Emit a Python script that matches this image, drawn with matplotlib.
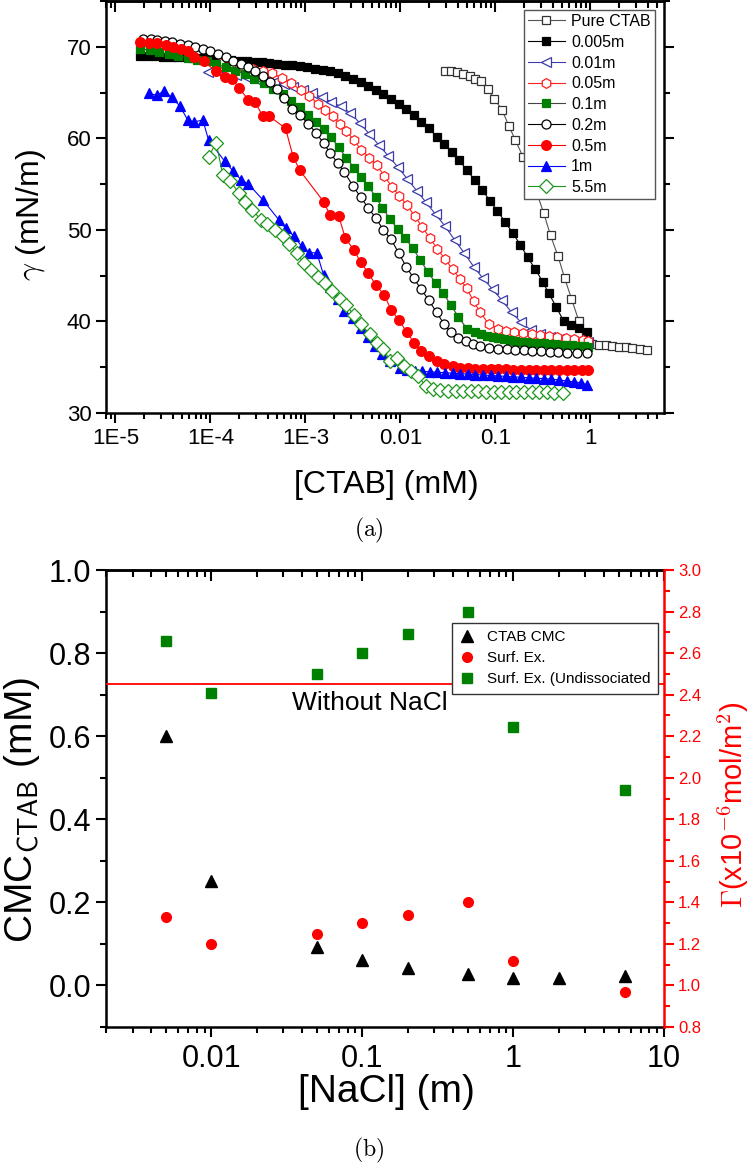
import numpy as np
import matplotlib.pyplot as plt
from matplotlib.ticker import (FixedLocator, FixedFormatter, LogLocator,
                               MultipleLocator, NullFormatter)

plt.rcParams['font.family'] = ['Liberation Sans', 'DejaVu Sans']
plt.rcParams['mathtext.fontset'] = 'cm'
NARROW = ['Liberation Sans Narrow', 'Liberation Sans', 'DejaVu Sans']

# ---------------------------------------------------------------------------
# (a) surface tension vs [CTAB]; x values are log10([CTAB] / mM) read off the
#     log axis, y values are gamma in mN/m
# ---------------------------------------------------------------------------
pure_lg = [-1.53, -1.47, -1.40, -1.34, -1.27, -1.21, -1.15, -1.08, -1.01, -0.93,
           -0.86, -0.79, -0.71, -0.64, -0.56, -0.49, -0.42, -0.34, -0.27, -0.20,
           -0.12, -0.05, 0.02, 0.09, 0.16, 0.23, 0.30, 0.37, 0.44, 0.52, 0.60]
pure_g = [67.4, 67.3, 67.2, 67.05, 66.8, 66.5, 66.25, 65.35, 64.3, 63.1,
          61.4, 59.8, 58.0, 55.8, 53.9, 51.8, 49.4, 47.1, 44.7, 42.5,
          40.0, 38.4, 37.5, 37.45, 37.4, 37.3, 37.25, 37.2, 37.1, 37.0, 36.9]

m0005_lg = [-4.74, -4.66, -4.58, -4.50, -4.42, -4.34, -4.26, -4.18, -4.10, -4.02,
            -3.94, -3.86, -3.78, -3.70, -3.62, -3.54, -3.46, -3.38, -3.30, -3.22,
            -3.14, -3.06, -2.98, -2.90, -2.82, -2.74, -2.66, -2.58, -2.50, -2.42,
            -2.34, -2.26, -2.18, -2.10, -2.02, -1.94, -1.86, -1.78, -1.70, -1.62,
            -1.54, -1.46, -1.38, -1.30, -1.22, -1.14, -1.06, -0.98, -0.90, -0.82,
            -0.74, -0.66, -0.58, -0.50, -0.44, -0.36, -0.28, -0.20, -0.12, -0.04]
m0005_g = [69.0, 68.97, 68.95, 68.92, 68.9, 68.87, 68.84, 68.8, 68.76, 68.72,
           68.67, 68.62, 68.56, 68.5, 68.45, 68.38, 68.3, 68.22, 68.14, 68.05,
           67.96, 67.86, 67.75, 67.62, 67.47, 67.3, 67.1, 66.85, 66.5, 66.1,
           65.7, 65.25, 64.8, 64.3, 63.75, 63.15, 62.5, 61.8, 61.1, 60.2,
           59.35, 58.5, 57.6, 56.5, 55.5, 54.4, 53.2, 52.1, 50.9, 49.7,
           48.4, 47.0, 45.7, 44.3, 43.1, 41.6, 40.0, 39.6, 39.3, 38.9]

m001_lg = [-4.03, -3.93, -3.83, -3.73, -3.63, -3.53, -3.43, -3.33, -3.23, -3.13,
           -3.03, -2.93, -2.83, -2.73, -2.63, -2.53, -2.43, -2.33, -2.23, -2.13,
           -2.03, -1.93, -1.83, -1.73, -1.63, -1.53, -1.43, -1.33, -1.23, -1.13,
           -1.03, -0.93, -0.83, -0.73, -0.63, -0.53, -0.43, -0.33, -0.23, -0.13, -0.03]
m001_g = [67.2, 67.3, 67.1, 66.9, 66.7, 66.5, 66.3, 66.1, 65.9, 65.6,
          65.3, 64.9, 64.5, 64.0, 63.5, 62.8, 61.7, 60.5, 59.3, 58.1,
          56.9, 55.6, 54.3, 53.0, 51.7, 50.4, 48.9, 47.5, 46.0, 44.7,
          43.5, 42.3, 41.0, 39.9, 39.1, 38.6, 38.3, 38.1, 37.95, 37.85, 37.75]

m005_lg = [-3.90, -3.78, -3.66, -3.55, -3.45, -3.35, -3.25, -3.15, -3.05, -2.96,
           -2.87, -2.79, -2.71, -2.64, -2.57, -2.49, -2.41, -2.33, -2.25, -2.17,
           -2.09, -2.01, -1.93, -1.85, -1.77, -1.69, -1.61, -1.53, -1.45, -1.37,
           -1.30, -1.23, -1.16, -1.07, -0.97, -0.89, -0.80, -0.71, -0.62, -0.53,
           -0.44, -0.35, -0.26, -0.17, -0.08, -0.02]
m005_g = [68.2, 68.0, 67.8, 67.6, 67.4, 67.1, 66.6, 66.0, 65.3, 64.6,
          63.8, 63.1, 62.4, 61.6, 60.8, 59.8, 58.7, 57.9, 57.1, 55.9,
          54.7, 53.7, 52.7, 51.5, 50.3, 49.1, 47.9, 46.8, 45.7, 44.6,
          43.6, 42.2, 41.0, 39.7, 39.2, 39.0, 38.8, 38.7, 38.6, 38.5,
          38.4, 38.25, 38.15, 38.05, 37.95, 37.85]

m01_lg = [-4.74, -4.64, -4.54, -4.44, -4.34, -4.24, -4.14, -4.04, -3.94, -3.84,
          -3.74, -3.64, -3.54, -3.44, -3.34, -3.24, -3.15, -3.06, -2.97, -2.89,
          -2.81, -2.73, -2.65, -2.57, -2.49, -2.42, -2.34, -2.26, -2.19, -2.11,
          -2.03, -1.95, -1.87, -1.79, -1.71, -1.63, -1.55, -1.47, -1.39, -1.30,
          -1.21, -1.15, -1.09, -1.03, -0.97, -0.91, -0.85, -0.79, -0.73, -0.67,
          -0.61, -0.55, -0.49, -0.43, -0.37, -0.31, -0.25, -0.19, -0.13, -0.07, -0.03]
m01_g = [69.8, 69.6, 69.4, 69.2, 69.0, 68.8, 68.6, 68.4, 68.1, 67.8,
         67.4, 67.0, 66.5, 66.0, 65.4, 64.8, 64.1, 63.4, 62.6, 61.8,
         61.0, 60.1, 59.0, 57.9, 56.8, 55.8, 54.8, 53.6, 52.4, 51.2,
         50.1, 49.1, 48.0, 46.7, 45.4, 44.2, 43.1, 41.8, 40.5, 39.2,
         38.8, 38.6, 38.45, 38.3, 38.2, 38.1, 38.0, 37.9, 37.8, 37.75,
         37.7, 37.65, 37.6, 37.55, 37.5, 37.45, 37.4, 37.38, 37.35, 37.3, 37.25]

m02_lg = [-4.71, -4.63, -4.56, -4.48, -4.40, -4.32, -4.24, -4.16, -4.08, -4.00,
          -3.92, -3.84, -3.76, -3.68, -3.61, -3.53, -3.45, -3.37, -3.30, -3.23,
          -3.14, -3.06, -2.97, -2.89, -2.81, -2.74, -2.66, -2.59, -2.50, -2.42,
          -2.34, -2.26, -2.18, -2.10, -2.02, -1.94, -1.86, -1.78, -1.70, -1.62,
          -1.54, -1.47, -1.39, -1.31, -1.24, -1.16, -1.07, -0.97, -0.88, -0.79,
          -0.70, -0.61, -0.52, -0.43, -0.34, -0.25, -0.14, -0.04]
m02_g = [70.9, 70.8, 70.7, 70.6, 70.5, 70.35, 70.2, 70.0, 69.8, 69.5,
         69.2, 68.9, 68.5, 68.1, 67.8, 67.3, 66.8, 66.2, 65.4, 64.4,
         63.2, 62.5, 61.6, 60.6, 59.5, 58.4, 57.3, 56.3, 54.8, 53.6,
         52.4, 51.3, 50.0, 49.0, 47.5, 46.0, 44.7, 43.5, 42.3, 41.0,
         39.7, 38.8, 38.2, 37.9, 37.5, 37.3, 37.15, 37.0, 36.95, 36.9,
         36.85, 36.8, 36.75, 36.7, 36.65, 36.6, 36.55, 36.5]

m05_lg = [-4.74, -4.65, -4.56, -4.47, -4.39, -4.31, -4.24, -4.17, -4.07, -3.94,
          -3.85, -3.77, -3.70, -3.60, -3.53, -3.45, -3.38, -3.21, -3.13, -3.06,
          -2.81, -2.74, -2.65, -2.58, -2.49, -2.42, -2.34, -2.26, -2.17, -2.10,
          -2.02, -1.93, -1.86, -1.78, -1.70, -1.62, -1.54, -1.45, -1.37, -1.29,
          -1.21, -1.13, -1.05, -0.97, -0.89, -0.81, -0.73, -0.65, -0.57, -0.49,
          -0.41, -0.33, -0.25, -0.17, -0.09, -0.03]
m05_g = [70.5, 70.45, 70.4, 70.2, 70.0, 69.8, 69.5, 68.9, 68.4, 67.3,
         66.7, 66.5, 65.5, 64.2, 64.0, 62.4, 62.4, 61.1, 58.0, 56.5,
         53.1, 51.6, 51.5, 49.1, 47.8, 46.5, 45.3, 44.0, 42.9, 41.3,
         40.2, 38.8, 37.7, 36.8, 36.2, 35.7, 35.3, 35.1, 34.95, 34.9,
         34.85, 34.85, 34.8, 34.8, 34.8, 34.75, 34.75, 34.75, 34.7, 34.7,
         34.7, 34.7, 34.7, 34.7, 34.7, 34.7]

m1_lg = [-4.65, -4.56, -4.49, -4.41, -4.32, -4.24, -4.17, -4.08, -4.02, -3.85,
         -3.76, -3.68, -3.60, -3.45, -3.28, -3.21, -3.12, -3.04, -2.96, -2.88,
         -2.81, -2.74, -2.66, -2.59, -2.50, -2.42, -2.34, -2.27, -2.19, -2.11,
         -2.00, -1.93, -1.85, -1.77, -1.69, -1.61, -1.53, -1.45, -1.37, -1.29,
         -1.21, -1.13, -1.05, -0.97, -0.89, -0.81, -0.73, -0.65, -0.57, -0.49,
         -0.41, -0.33, -0.25, -0.17, -0.10, -0.04]
m1_g = [64.9, 64.7, 65.2, 64.5, 63.5, 62.0, 61.8, 62.0, 59.8, 57.5,
        56.4, 55.5, 55.0, 53.3, 51.1, 50.2, 49.3, 48.2, 47.5, 47.5,
        45.1, 43.8, 42.4, 41.1, 40.4, 39.3, 38.3, 37.3, 36.4, 35.7,
        34.9, 34.75, 34.6, 34.55, 34.5, 34.45, 34.4, 34.35, 34.3, 34.25,
        34.2, 34.15, 34.1, 34.05, 34.0, 33.95, 33.9, 33.85, 33.8, 33.75,
        33.7, 33.6, 33.5, 33.4, 33.3, 33.1]

m55_lg = [-4.02, -3.94, -3.87, -3.79, -3.70, -3.64, -3.56, -3.47, -3.40, -3.32,
          -3.24, -3.17, -3.09, -3.02, -2.94, -2.87, -2.79, -2.72, -2.64, -2.57,
          -2.49, -2.42, -2.32, -2.25, -2.18, -2.11, -2.04, -1.96, -1.89, -1.81,
          -1.73, -1.66, -1.58, -1.50, -1.42, -1.34, -1.26, -1.18, -1.10, -1.02,
          -0.94, -0.86, -0.78, -0.70, -0.62, -0.54, -0.46, -0.38, -0.29]
m55_g = [58.0, 59.5, 56.0, 55.3, 54.0, 53.1, 52.2, 51.1, 50.6, 50.0,
         49.3, 48.5, 47.5, 46.4, 45.6, 44.9, 44.2, 43.3, 42.5, 41.8,
         40.7, 39.7, 38.6, 37.7, 37.0, 35.7, 36.0, 35.1, 34.6, 34.0,
         32.9, 32.6, 32.5, 32.45, 32.4, 32.4, 32.35, 32.35, 32.3, 32.3,
         32.3, 32.3, 32.25, 32.25, 32.25, 32.25, 32.25, 32.2, 32.2]

ctab_ticks = [1e-5, 1e-4, 1e-3, 0.01, 0.1, 1]
ctab_ticklabels = ['1E-5', '1E-4', '1E-3', '0.01', '0.1', '1']

# ---------------------------------------------------------------------------
# (b) CMC and surface excess vs [NaCl]
# ---------------------------------------------------------------------------
nacl_cmc = [0.005, 0.01, 0.05, 0.1, 0.2, 0.5, 1, 2, 5.5]
cmc_ctab = [0.60, 0.252, 0.092, 0.062, 0.043, 0.028, 0.017, 0.017, 0.023]
nacl_ex = [0.005, 0.01, 0.05, 0.1, 0.2, 0.5, 1, 5.5]
surf_ex = [1.33, 1.20, 1.25, 1.30, 1.34, 1.40, 1.12, 0.97]
surf_ex_undiss = [2.66, 2.41, 2.50, 2.60, 2.69, 2.80, 2.245, 1.94]
gamma_no_salt = 2.45

nacl_ticks = [0.01, 0.1, 1, 10]
nacl_ticklabels = ['0.01', '0.1', '1', '10']

# ---------------------------------------------------------------------------
W, H = 750, 1165
fig = plt.figure(figsize=(W / 100, H / 100), dpi=100)
SPW = 1.8


def fx(px):
    return px / W


def fy(py):
    return 1 - py / H


# ----------------------------- panel (a) ------------------------------------
ax = fig.add_axes([fx(106), fy(413), fx(664 - 106), 412 / H])
ax.set_xscale('log')

series = [
    ('Pure CTAB', pure_lg, pure_g, dict(marker='s', ms=6, color='#555555', mec='#333333', mfc='white')),
    ('0.005m', m0005_lg, m0005_g, dict(marker='s', ms=5.5, color='black', mec='black', mfc='black')),
    ('0.01m', m001_lg, m001_g, dict(marker='<', ms=7.5, color='#3a3aa8', mec='#3a3aa8', mfc='white')),
    ('0.05m', m005_lg, m005_g, dict(marker='h', ms=7, color='#ff2020', mec='#ff2020', mfc='white')),
    ('0.1m', m01_lg, m01_g, dict(marker='s', ms=5.8, color='#444444', mec='#008000', mfc='#008000')),
    ('0.2m', m02_lg, m02_g, dict(marker='o', ms=6.5, color='black', mec='black', mfc='white')),
    ('0.5m', m05_lg, m05_g, dict(marker='o', ms=7, color='red', mec='red', mfc='red')),
    ('1m', m1_lg, m1_g, dict(marker='^', ms=7, color='#0000ff', mec='#0000ff', mfc='#0000ff')),
    ('5.5m', m55_lg, m55_g, dict(marker='D', ms=6.8, color='#1a961a', mec='#1a961a', mfc='white')),
]
for name, lg, g, st in series:
    ax.plot(10 ** np.array(lg), g, lw=0.8, mew=0.9, label=name, **st)

ax.set_xlim(10 ** -5.1, 10 ** 0.775)
ax.set_ylim(30, 75)
ax.xaxis.set_major_locator(FixedLocator(ctab_ticks))
ax.xaxis.set_major_formatter(FixedFormatter(ctab_ticklabels))
ax.xaxis.set_minor_locator(LogLocator(base=10, subs=range(2, 10), numticks=20))
ax.xaxis.set_minor_formatter(NullFormatter())
ax.yaxis.set_major_locator(MultipleLocator(10))
ax.yaxis.set_minor_locator(MultipleLocator(5))
ax.tick_params(axis='x', which='both', direction='out', top=False, labelsize=16, width=1.5, pad=4)
ax.tick_params(axis='y', which='both', direction='out', left=True, right=True, labelsize=16, width=1.5)
ax.tick_params(which='major', length=7)
ax.tick_params(which='minor', length=4)
for s in ax.spines.values():
    s.set_linewidth(SPW)

top = ax.secondary_xaxis('top')
top.xaxis.set_major_locator(FixedLocator(ctab_ticks))
top.xaxis.set_minor_locator(LogLocator(base=10, subs=range(2, 10), numticks=20))
top.xaxis.set_major_formatter(NullFormatter())
top.xaxis.set_minor_formatter(NullFormatter())
top.tick_params(which='both', direction='in', width=1.5)
top.tick_params(which='major', length=8)
top.tick_params(which='minor', length=5)
top.spines['top'].set_linewidth(SPW)

leg = ax.legend(loc='upper right', bbox_to_anchor=(0.983, 0.978), fontsize=11.5,
                frameon=True, fancybox=False, edgecolor='#555555', framealpha=1,
                handlelength=2.3, labelspacing=0.36, borderpad=0.25,
                handletextpad=0.4, borderaxespad=0)
leg.get_frame().set_linewidth(1.0)

fig.text(fx(386), fy(485), '[CTAB] (mM)', ha='center', va='center', fontsize=23)
fig.text(fx(31), fy(215), r'$\gamma$ (mN/m)', ha='center', va='center',
         rotation=90, fontsize=23)
fig.text(fx(369), fy(530), r'$\mathrm{(a)}$', ha='center', va='center', fontsize=17)

# ----------------------------- panel (b) ------------------------------------
ax2 = fig.add_axes([fx(106), fy(1027), fx(664 - 106), 457 / H])
ax2.set_xscale('log')
ax2r = ax2.twinx()

ax2.plot(nacl_cmc, cmc_ctab, ls='none', marker='^', ms=8, color='black', label='CTAB CMC')
ax2r.plot(nacl_ex, surf_ex, ls='none', marker='o', ms=7, color='red', label='Surf. Ex.')
ax2r.plot(nacl_ex, surf_ex_undiss, ls='none', marker='s', ms=6.5, color='#008000',
          label='Surf. Ex. (Undissociated')
ax2r.axhline(gamma_no_salt, color='red', lw=1.3)
ax2.text(0.113, 0.68, 'Without NaCl', ha='center', va='center', fontsize=19, family=NARROW)

ax2.set_xlim(0.002, 10)
ax2.set_ylim(-0.1, 1.0)
ax2r.set_ylim(0.8, 3.0)

ax2.xaxis.set_major_locator(FixedLocator(nacl_ticks))
ax2.xaxis.set_major_formatter(FixedFormatter(nacl_ticklabels))
ax2.xaxis.set_minor_locator(LogLocator(base=10, subs=range(2, 10), numticks=20))
ax2.xaxis.set_minor_formatter(NullFormatter())
ax2.yaxis.set_major_locator(FixedLocator([0.0, 0.2, 0.4, 0.6, 0.8, 1.0]))
ax2.yaxis.set_major_formatter(FixedFormatter(['0.0', '0.2', '0.4', '0.6', '0.8', '1.0']))
ax2.yaxis.set_minor_locator(MultipleLocator(0.1))
ax2.tick_params(axis='x', which='both', direction='out', top=False, width=1.5, pad=5)
ax2.tick_params(axis='y', which='both', direction='out', right=False, width=1.5)
ax2.tick_params(which='major', length=7)
ax2.tick_params(which='minor', length=4)
for lab in ax2.get_xticklabels() + ax2.get_yticklabels():
    lab.set_family(NARROW)
    lab.set_fontsize(22)
for s in ax2.spines.values():
    s.set_linewidth(SPW)
ax2.spines['right'].set_visible(False)

ax2r.yaxis.set_major_locator(MultipleLocator(0.2))
ax2r.yaxis.set_minor_locator(MultipleLocator(0.1))
ax2r.yaxis.set_major_formatter(plt.FuncFormatter(lambda v, p: f'{v:.1f}'))
ax2r.tick_params(axis='y', which='both', direction='out', colors='red', width=1.5, pad=3)
ax2r.tick_params(which='major', length=7)
ax2r.tick_params(which='minor', length=4)
for lab in ax2r.get_yticklabels():
    lab.set_family(NARROW)
    lab.set_fontsize(12)
for k in ('left', 'top', 'bottom'):
    ax2r.spines[k].set_visible(False)
ax2r.spines['right'].set_color('red')
ax2r.spines['right'].set_linewidth(SPW)

top2 = ax2.secondary_xaxis('top')
top2.xaxis.set_major_locator(FixedLocator(nacl_ticks))
top2.xaxis.set_minor_locator(LogLocator(base=10, subs=range(2, 10), numticks=20))
top2.xaxis.set_major_formatter(NullFormatter())
top2.xaxis.set_minor_formatter(NullFormatter())
top2.tick_params(which='both', direction='in', width=1.5)
top2.tick_params(which='major', length=8)
top2.tick_params(which='minor', length=5)
top2.spines['top'].set_linewidth(SPW)

h1, l1 = ax2.get_legend_handles_labels()
h2, l2 = ax2r.get_legend_handles_labels()
leg2 = ax2r.legend(h1 + h2, l1 + l2, loc='upper right', bbox_to_anchor=(0.989, 0.885),
                   prop={'family': NARROW, 'size': 11}, frameon=True, fancybox=False,
                   edgecolor='#333333', framealpha=1, handlelength=1.0,
                   handletextpad=0.8, borderpad=0.5, labelspacing=0.45, borderaxespad=0)
leg2.get_frame().set_linewidth(1.0)

fig.text(fx(386), fy(1092), '[NaCl] (m)', ha='center', va='center', fontsize=28, family=NARROW)
fig.text(fx(22), fy(810), r'CMC$_{\mathsf{CTAB}}$ (mM)', ha='center', va='center',
         rotation=90, fontsize=28, family=NARROW)
fig.text(fx(733), fy(805), r'$\Gamma$(x10$^{\mathsf{-6}}$mol/m$^{\mathsf{2}}$)', ha='center',
         va='center', rotation=90, fontsize=21, color='red')
fig.text(fx(369), fy(1150), r'$\mathrm{(b)}$', ha='center', va='center', fontsize=17)

fig.savefig('out.png', dpi=100)
